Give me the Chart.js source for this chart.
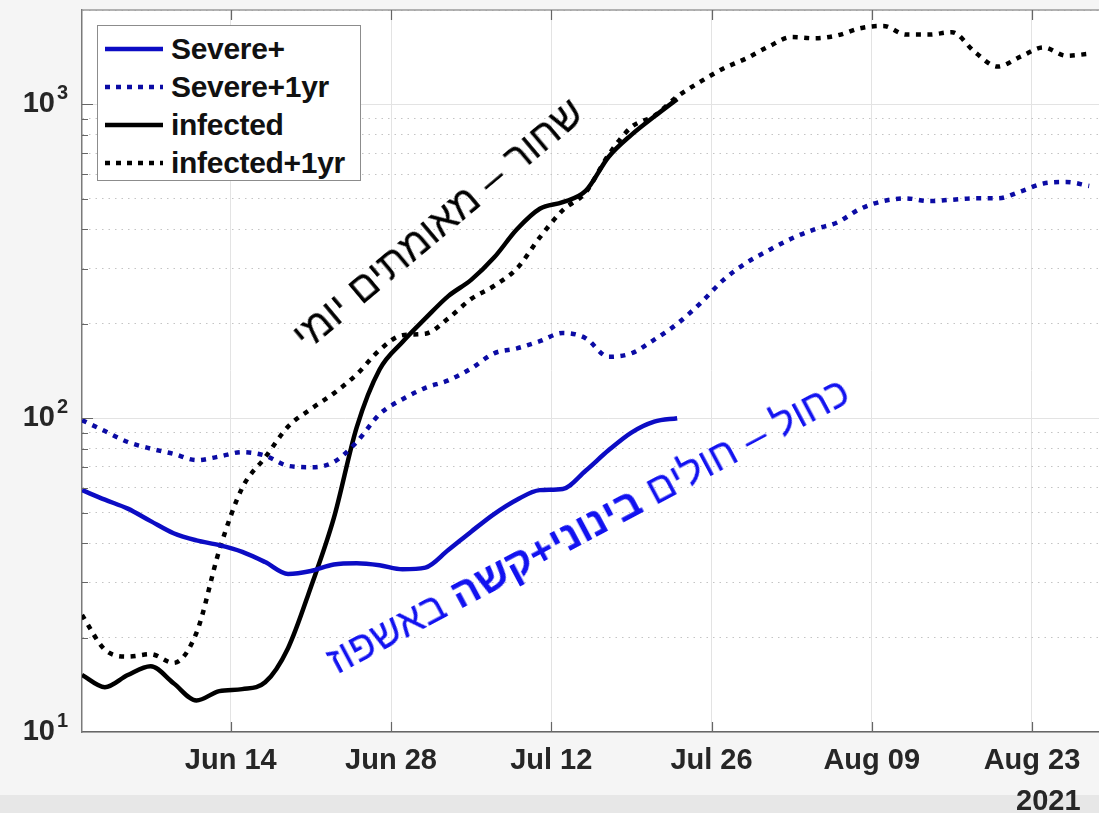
<!DOCTYPE html>
<html>
<head>
<meta charset="utf-8">
<script src="https://cdn.jsdelivr.net/npm/chart.js"></script>
<style>
  html, body { margin: 0; padding: 0; }
  body { width: 1099px; height: 813px; overflow: hidden; background: #f5f5f5; position: relative;
         font-family: "Liberation Sans", Arial, sans-serif; }
  #wrap { position: absolute; left: 0; top: 0; width: 1140px; height: 795px; }
  #band { position: absolute; left: 0; top: 795px; width: 1099px; height: 18px; background: #e7e7e7; }
  #legend { position: absolute; left: 97px; top: 25px; width: 264px; height: 156px; background: #fff;
            border: 1px solid #8c8c8c; padding-top: 4px; box-sizing: border-box; }
  #legend .row { height: 38px; display: flex; align-items: center; }
  #legend svg { margin-left: 7px; margin-right: 8px; }
  #legend span { font-weight: bold; font-size: 30px; color: #111; letter-spacing: -0.3px; }
  .note { position: absolute; white-space: nowrap; direction: rtl; font-family: "Liberation Sans", "DejaVu Sans", sans-serif;
          font-size: 41px; transform-origin: center center; }
  #year { position: absolute; left: 1016px; top: 784px; font-weight: bold; font-size: 29px; color: #262626; }
</style>
</head>
<body>
<div id="band"></div>
<div id="wrap"><canvas id="chart"></canvas></div>
<div id="legend"></div>
<div class="note" id="noteBlack" style="left:438px; top:224px; color:#000; transform: translate(-50%,-50%) rotate(-40deg);">שחור – מאומתים יומי</div>
<div class="note" id="noteBlue" style="left:588px; top:526px; color:#1212f0; transform: translate(-50%,-50%) rotate(-28deg);">כחול – חולים <b>בינוני+קשה</b> באשפוז</div>
<div id="year">2021</div>

<script>
// days since Jun 1 2021
const days = [0, 2, 4, 6, 8, 10, 12, 14, 16, 18, 20, 22, 24, 26, 28, 30, 32, 34, 36, 38, 40, 42, 44,
              46, 48, 50, 52, 54, 56, 58, 60, 62, 64, 66, 68, 70, 72, 74, 76, 78, 80, 82, 84, 86, 88];

const severe = [59, 55, 51.5, 47, 43, 40.8, 39.4, 37.5, 34.8, 31.9, 32.6, 34.2, 34.5, 34, 33, 33.4,
                38, 43.5, 49.5, 55, 59, 59.5, 68, 79, 90, 97.5, 100];
const severe1yr = [98.6, 91, 84, 80, 77, 73.5, 75.5, 78, 76, 70.5, 69.8, 72.5, 84, 103, 115, 125, 132,
                   144, 161, 167, 176, 187, 180, 157, 161, 178, 200, 232, 275, 312, 343, 374, 400, 421,
                   465, 492, 502, 492, 497, 502, 502, 528, 560, 566, 550];
const infected = [15.2, 13.9, 15.2, 16.2, 14.3, 12.6, 13.5, 13.7, 14.4, 18.5, 29, 48, 93.5, 143, 175,
                  208, 245, 276, 325, 400, 465, 488, 530, 680, 800, 915, 1040];
const infected1yr = [23.6, 18.3, 17.4, 17.7, 16.6, 20.7, 38, 60, 75, 94, 107, 120, 138, 165, 184, 186,
                     208, 240, 264, 300, 377, 460, 525, 690, 847, 920, 1060, 1180, 1300, 1400, 1530,
                     1640, 1625, 1660, 1750, 1780, 1670, 1670, 1700, 1470, 1320, 1420, 1520, 1430, 1450];

const seriesNames = ['Severe+', 'Severe+1yr', 'infected', 'infected+1yr'];

const tickDays = [13, 27, 41, 55, 69, 83];
const tickLabels = ['Jun 14', 'Jun 28', 'Jul 12', 'Jul 26', 'Aug 09', 'Aug 23'];
const yGrid = [10, 20, 30, 40, 50, 60, 70, 80, 90, 100, 200, 300, 400, 500, 600, 700, 800, 900, 1000, 2000];
const yExponents = { 10: '1', 100: '2', 1000: '3' };

const styles = [
  { color: '#0c0cc4', dash: [] },
  { color: '#0b0ba4', dash: [5, 6.5] },
  { color: '#000000', dash: [] },
  { color: '#000000', dash: [5, 6.5] }
];

function pts(vals) {
  return vals.map((v, i) => ({ x: days[i], y: v }));
}

const isMajor = v => Math.abs(Math.log10(v) - Math.round(Math.log10(v))) < 1e-9;
const tickFont = { family: 'Liberation Sans', size: 29, weight: 'bold' };

const whiteArea = {
  id: 'whiteArea',
  beforeDraw(chart) {
    const a = chart.chartArea, c = chart.ctx;
    c.save();
    c.fillStyle = '#ffffff';
    c.fillRect(a.left, a.top, a.right - a.left, a.bottom - a.top);
    c.restore();
  }
};

const frame = {
  id: 'frame',
  afterDraw(chart) {
    const a = chart.chartArea, c = chart.ctx;
    const xs = chart.scales.x, ys = chart.scales.y;
    c.save();
    c.strokeStyle = '#9a9a9a';
    c.lineWidth = 1.5;
    c.beginPath();
    c.moveTo(a.left, a.top);
    c.lineTo(a.right, a.top);
    c.stroke();
    c.strokeStyle = '#666';
    c.lineWidth = 1.2;
    c.beginPath();
    yGrid.forEach(v => {
      if (v === 10 || v === 2000) return;
      const y = Math.round(ys.getPixelForValue(v)) + 0.5;
      c.moveTo(a.left, y);
      c.lineTo(a.left + (isMajor(v) ? 11 : 6), y);
    });
    tickDays.forEach(d => {
      const x = Math.round(xs.getPixelForValue(d)) + 0.5;
      c.moveTo(x, a.bottom);
      c.lineTo(x, a.bottom - 10);
      c.moveTo(x, a.top);
      c.lineTo(x, a.top + 10);
    });
    c.stroke();
    // exponents of the 10^n labels
    c.fillStyle = '#262626';
    c.font = 'bold 20px "Liberation Sans"';
    c.textAlign = 'left';
    c.textBaseline = 'alphabetic';
    Object.keys(yExponents).forEach(v => {
      const y = ys.getPixelForValue(Number(v));
      c.fillText(yExponents[v], 57, y - 5);
    });
    c.restore();
  }
};

const chart = new Chart(document.getElementById('chart').getContext('2d'), {
  type: 'line',
  data: {
    datasets: [severe, severe1yr, infected, infected1yr].map((vals, i) => ({
      label: seriesNames[i],
      data: pts(vals),
      borderColor: styles[i].color,
      borderDash: styles[i].dash,
      borderWidth: 4.5,
      borderCapStyle: 'butt',
      pointRadius: 0,
      fill: false,
      tension: 0.4,
      cubicInterpolationMode: 'monotone'
    }))
  },
  options: {
    responsive: true,
    maintainAspectRatio: false,
    animation: false,
    layout: { autoPadding: false, padding: { top: 10, right: 5, left: 0, bottom: 0 } },
    plugins: { legend: { display: false }, tooltip: { enabled: false } },
    scales: {
      x: {
        type: 'linear',
        min: 0,
        max: 92,
        afterFit: s => { s.height = 63; s.paddingLeft = 0; s.paddingRight = 0; },
        afterBuildTicks: s => { s.ticks = tickDays.map(v => ({ value: v })); },
        ticks: {
          callback: (v, i) => tickLabels[i],
          font: tickFont,
          color: '#262626',
          padding: 12,
          maxRotation: 0,
          autoSkip: false
        },
        grid: { color: '#e3e3e3', lineWidth: 1, drawTicks: false },
        border: { color: '#666', width: 1.5 }
      },
      y: {
        type: 'logarithmic',
        min: 10,
        max: 2000,
        afterFit: s => { s.width = 82; s.paddingTop = 0; s.paddingBottom = 0; },
        afterBuildTicks: s => { s.ticks = yGrid.map(v => ({ value: v })); },
        ticks: {
          callback: v => (yExponents[v] ? '10' : ''),
          font: tickFont,
          color: '#262626',
          padding: 27,
          autoSkip: false
        },
        grid: {
          color: c => (c.tick && !isMajor(c.tick.value)) ? '#c4c4c4' : '#e3e3e3',
          lineWidth: 1,
          drawTicks: false
        },
        border: {
          color: '#7a7a7a',
          width: 1.5,
          dash: c => (c.tick && !isMajor(c.tick.value)) ? [1.5, 5] : []
        }
      }
    }
  },
  plugins: [whiteArea, frame]
});

// legend box built from the chart's datasets
const legend = document.getElementById('legend');
chart.data.datasets.forEach(ds => {
  const row = document.createElement('div');
  row.className = 'row';
  const dash = ds.borderDash.length ? ' stroke-dasharray="5 6"' : '';
  row.innerHTML = '<svg width="58" height="10"><line x1="0" y1="5" x2="58" y2="5" stroke="' + ds.borderColor +
                  '" stroke-width="4.5"' + dash + '/></svg><span>' + ds.label + '</span>';
  legend.appendChild(row);
});
</script>
</body>
</html>
